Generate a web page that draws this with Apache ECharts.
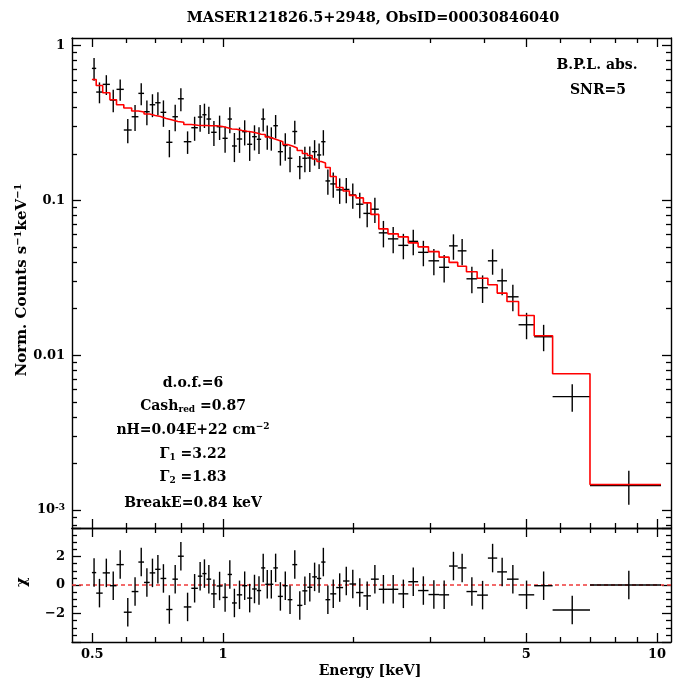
<!DOCTYPE html>
<html>
<head>
<meta charset="utf-8">
<script src="https://cdn.jsdelivr.net/npm/echarts@6/dist/echarts.min.js"></script>
<style>
  html, body { margin: 0; padding: 0; background: #fff; }
  #chart { width: 673px; height: 682px; }
</style>
</head>
<body>
<div id="chart"></div>
<script>
// Energy bin edges (keV); bin i spans binEdges[i] .. binEdges[i+1]
const binEdges = [
  0.499, 0.5105, 0.5284, 0.549, 0.5686, 0.591, 0.6162, 0.6385, 0.658, 0.678,
  0.6981, 0.7182, 0.7403, 0.7649, 0.7875, 0.8124, 0.8455, 0.8754, 0.8965, 0.9165,
  0.9393, 0.9671, 0.9976, 1.0253, 1.049, 1.0763, 1.1073, 1.137, 1.1676, 1.1967,
  1.2246, 1.2516, 1.2784, 1.3066, 1.3382, 1.3742, 1.4097, 1.445, 1.4827, 1.5238,
  1.5648, 1.6056, 1.6466, 1.6842, 1.7226, 1.7666, 1.8238, 1.8913, 1.9561, 2.0263,
  2.1064, 2.1921, 2.2856, 2.3995, 2.5349, 2.673, 2.8158, 2.9751, 3.1474, 3.3189,
  3.474, 3.6392, 3.8509, 4.0771, 4.2838, 4.5112, 4.798, 5.2129, 5.7475, 7.0079,
  10.214
];

// Normalised count rate per bin (counts s^-1 keV^-1) and its 1-sigma error
const flux = [
  0.7127, 0.5012, 0.5620, 0.4449, 0.5218, 0.2850, 0.3472, 0.4915, 0.3741, 0.4150,
  0.4275, 0.3707, 0.2374, 0.3472, 0.4535, 0.2395, 0.2949, 0.3456, 0.3576, 0.3355,
  0.2754, 0.2993, 0.2519, 0.3355, 0.2247, 0.2493, 0.2779, 0.2305, 0.2580, 0.2482,
  0.3355, 0.2588, 0.2531, 0.3038, 0.2064, 0.2263, 0.1872, 0.2787, 0.1653, 0.1872,
  0.1880, 0.2064, 0.1966, 0.2395, 0.1336, 0.1278, 0.1169, 0.1177, 0.1085, 0.09451,
  0.08243, 0.08774, 0.06172, 0.05644, 0.05124, 0.05439, 0.04619, 0.04072, 0.03697, 0.05086,
  0.04723, 0.03116, 0.02726, 0.04072, 0.03025, 0.02384, 0.01573, 0.01316, 0.005401, 0.001439
];
const fluxErr = [
  0.120, 0.0772, 0.0822, 0.0739, 0.0819, 0.0510, 0.0667, 0.0796, 0.0677, 0.0701,
  0.0722, 0.0719, 0.0475, 0.0674, 0.0766, 0.0398, 0.0522, 0.0681, 0.0640, 0.0671,
  0.0509, 0.0536, 0.0489, 0.0641, 0.0479, 0.0466, 0.0514, 0.0505, 0.0477, 0.0489,
  0.0567, 0.0463, 0.0435, 0.0523, 0.0386, 0.0457, 0.0350, 0.0479, 0.0284, 0.0350,
  0.0352, 0.0386, 0.0368, 0.0448, 0.0250, 0.0239, 0.0219, 0.0220, 0.0203, 0.0177,
  0.0154, 0.0164, 0.0120, 0.0109, 0.00958, 0.0102, 0.00864, 0.00790, 0.00747, 0.00951,
  0.00916, 0.00605, 0.00551, 0.00761, 0.00587, 0.00463, 0.00305, 0.00255, 0.00109, 0.000357
];

// Folded broken power-law model per bin
const model = [
  0.6035, 0.5520, 0.4959, 0.4469, 0.4150, 0.3952, 0.3780, 0.3724, 0.3614, 0.3535,
  0.3483, 0.3381, 0.3306, 0.3233, 0.3195, 0.3092, 0.3056, 0.3047, 0.3047, 0.3038,
  0.3038, 0.3002, 0.2949, 0.2892, 0.2879, 0.2829, 0.2796, 0.2767, 0.2726, 0.2678,
  0.2666, 0.2569, 0.2512, 0.2457, 0.2395, 0.2297, 0.2247, 0.2182, 0.2102, 0.2010,
  0.1951, 0.1852, 0.1785, 0.1746, 0.1633, 0.1428, 0.1213, 0.1151, 0.1077, 0.1038,
  0.09636, 0.08122, 0.06549, 0.06081, 0.05813, 0.05319, 0.05012, 0.04667, 0.04301, 0.03981,
  0.03752, 0.03457, 0.03139, 0.02850, 0.02519, 0.02224, 0.01804, 0.01335, 0.007597, 0.001461
];

// Residuals (data - model) / sigma
const residual = [
  0.87, -0.57, 0.85, -0.05, 1.43, -1.91, -0.46, 1.61, 0.18, 0.85,
  1.10, 0.46, -1.72, 0.41, 2.02, -1.54, -0.23, 0.62, 0.80, 0.41,
  -0.62, -0.07, -0.87, 0.74, -1.26, -0.69, -0.05, -0.92, -0.28, -0.39,
  1.20, 0.05, 0.05, 1.20, -0.80, -0.05, -1.03, 1.43, -1.43, -0.41,
  -0.16, 0.57, 0.46, 1.61, -1.03, -0.62, -0.18, 0.28, 0.07, -0.53,
  -0.76, 0.41, -0.30, -0.30, -0.62, 0.23, -0.39, -0.67, -0.69, 1.33,
  1.20, -0.46, -0.71, 1.89, 0.92, 0.41, -0.69, -0.05, -1.75, 0.00
];

// Axis ranges and ticks
const energyRange = [0.449, 10.77];
const fluxRange = [7.65e-4, 1.12];
const residualRange = [-4, 4];
const energyTicks = [0.5, 1, 5, 10];
const energyTickLabels = ['0.5', '1', '5', '10'];
const energyMinorTicks = [0.6, 0.7, 0.8, 0.9, 2, 3, 4, 6, 7, 8, 9];
const fluxTicks = [0.001, 0.01, 0.1, 1];
const fluxTickLabels = ['10{sup|-3}', '0.01', '0.1', '1'];
const residualTicks = [-4, -2, 0, 2, 4];
const residualLabelTicks = [-2, 0, 2];

const lg = Math.log10;
const SERIF = 'DejaVu Serif';
const INK = '#000';

// minor flux ticks: 2..9 x each decade inside the range
const fluxMinorTicks = [];
for (let d = -4; d <= 0; d++) {
  for (let m = 2; m <= 9; m++) {
    const v = m * Math.pow(10, d);
    if (v > fluxRange[0] && v < fluxRange[1]) fluxMinorTicks.push(v);
  }
}
const residualMinorTicks = [];
for (let v = -3.5; v <= 3.5; v += 0.5) {
  if (Math.abs(v % 2) > 1e-9) residualMinorTicks.push(v);
}

// Build series data in log space
const spectrum = [], resid = [], modelStep = [];
for (let i = 0; i < flux.length; i++) {
  const lo = binEdges[i], hi = binEdges[i + 1], e = (lo + hi) / 2;
  spectrum.push([lg(e), lg(flux[i]), lg(lo), lg(hi), lg(flux[i] - fluxErr[i]), lg(flux[i] + fluxErr[i])]);
  resid.push([lg(e), residual[i], lg(lo), lg(hi), residual[i] - 1, residual[i] + 1]);
  modelStep.push([lg(lo), lg(model[i])], [lg(hi), lg(model[i])]);
}

function renderCross(params, api) {
  const x = api.value(0), y = api.value(1);
  const a = api.coord([api.value(2), y]);
  const b = api.coord([api.value(3), y]);
  const c = api.coord([x, api.value(4)]);
  const d = api.coord([x, api.value(5)]);
  const st = { stroke: INK, lineWidth: 1.4 };
  return {
    type: 'group',
    children: [
      { type: 'line', shape: { x1: a[0], y1: a[1], x2: b[0], y2: b[1] }, style: st },
      { type: 'line', shape: { x1: c[0], y1: c[1], x2: d[0], y2: d[1] }, style: st }
    ]
  };
}

const labelFont = { fontFamily: SERIF, fontWeight: 'bold', fontSize: 13, color: INK };

function frameAxis(grid, pos, min, max, ticks, len, showLine, label) {
  return {
    type: 'value', gridIndex: grid, position: pos, min: min, max: max,
    silent: true,
    axisLine: { show: showLine, onZero: false, lineStyle: { color: INK, width: 1.4 } },
    axisTick: { show: true, inside: true, length: len, customValues: ticks,
                lineStyle: { color: INK, width: 1.3 } },
    axisLabel: label || { show: false },
    splitLine: { show: false },
    splitArea: { show: false }
  };
}

const xMin = lg(energyRange[0]), xMax = lg(energyRange[1]);
const yMin = lg(fluxRange[0]), yMax = lg(fluxRange[1]);
const eMaj = energyTicks.map(lg), eMin = energyMinorTicks.map(lg);
const fMaj = fluxTicks.map(lg), fMin = fluxMinorTicks.map(lg);

const energyLabel = Object.assign({
  show: true, margin: 6, customValues: eMaj,
  formatter: v => energyTickLabels[eMaj.findIndex(t => Math.abs(t - v) < 1e-6)]
}, labelFont);
const fluxLabel = Object.assign({
  show: true, margin: 7, customValues: fMaj,
  formatter: v => fluxTickLabels[fMaj.findIndex(t => Math.abs(t - v) < 1e-6)],
  rich: {
    sup: { fontFamily: SERIF, fontWeight: 'bold', fontSize: 9, lineHeight: 9, verticalAlign: 'top', color: INK }
  }
}, labelFont);
const residLabel = Object.assign({
  show: true, margin: 7, customValues: residualLabelTicks,
  formatter: v => (v < 0 ? '\u2212' + Math.abs(v) : String(v))
}, labelFont);

const xAxes = [
  frameAxis(0, 'bottom', xMin, xMax, eMaj, 9, true),
  frameAxis(0, 'bottom', xMin, xMax, eMin, 5, false),
  frameAxis(0, 'top', xMin, xMax, eMaj, 9, true),
  frameAxis(0, 'top', xMin, xMax, eMin, 5, false),
  frameAxis(1, 'bottom', xMin, xMax, eMaj, 9, true, energyLabel),
  frameAxis(1, 'bottom', xMin, xMax, eMin, 5, false),
  frameAxis(1, 'top', xMin, xMax, eMaj, 9, true),
  frameAxis(1, 'top', xMin, xMax, eMin, 5, false)
];
const yAxes = [
  frameAxis(0, 'left', yMin, yMax, fMaj, 9, true, fluxLabel),
  frameAxis(0, 'left', yMin, yMax, fMin, 5, false),
  frameAxis(0, 'right', yMin, yMax, fMaj, 9, true),
  frameAxis(0, 'right', yMin, yMax, fMin, 5, false),
  frameAxis(1, 'left', residualRange[0], residualRange[1], residualTicks, 9, true, residLabel),
  frameAxis(1, 'left', residualRange[0], residualRange[1], residualMinorTicks, 5, false),
  frameAxis(1, 'right', residualRange[0], residualRange[1], residualTicks, 9, true),
  frameAxis(1, 'right', residualRange[0], residualRange[1], residualMinorTicks, 5, false)
];

function text(x, y, str, size, extra) {
  return Object.assign({
    type: 'text', x: x, y: y, silent: true,
    style: {
      text: str, fill: INK, fontFamily: SERIF, fontWeight: 'bold', fontSize: size,
      lineHeight: size + 2,
      align: 'center', verticalAlign: 'middle', textAlign: 'center', textVerticalAlign: 'middle',
      rich: {
        sup: { fontFamily: SERIF, fontWeight: 'bold', fontSize: Math.round(size * 0.66), lineHeight: Math.round(size * 0.66), verticalAlign: 'top', fill: INK },
        sub: { fontFamily: SERIF, fontWeight: 'bold', fontSize: Math.round(size * 0.66), lineHeight: Math.round(size * 0.66), verticalAlign: 'bottom', fill: INK }
      }
    }
  }, extra || {});
}

const option = {
  animation: false,
  backgroundColor: '#fff',
  grid: [
    { left: 72, top: 38, width: 599, height: 490, containLabel: false, outerBoundsMode: 'none' },
    { left: 72, top: 528, width: 599, height: 114, containLabel: false, outerBoundsMode: 'none' }
  ],
  xAxis: xAxes,
  yAxis: yAxes,
  series: [
    {
      type: 'custom', name: 'spectrum', xAxisIndex: 0, yAxisIndex: 0,
      renderItem: renderCross, data: spectrum, encode: { x: [0, 2, 3], y: [1, 4, 5] }, z: 2, silent: true
    },
    {
      type: 'line', name: 'model', xAxisIndex: 0, yAxisIndex: 0, data: modelStep,
      symbol: 'none', showSymbol: false, lineStyle: { color: '#ff0000', width: 1.6 }, z: 3, silent: true
    },
    {
      type: 'line', name: 'zero', xAxisIndex: 4, yAxisIndex: 4, data: [[xMin, 0], [xMax, 0]],
      symbol: 'none', showSymbol: false, lineStyle: { color: '#ee3a3a', width: 1.4, type: [4, 3] }, z: 1, silent: true
    },
    {
      type: 'custom', name: 'residual', xAxisIndex: 4, yAxisIndex: 4,
      renderItem: renderCross, data: resid, encode: { x: [0, 2, 3], y: [1, 4, 5] }, z: 2, silent: true
    }
  ],
  graphic: [
    text(373, 18, 'MASER121826.5+2948, ObsID=00030846040', 14.5),
    text(597, 65, 'B.P.L. abs.', 14),
    text(598, 90, 'SNR=5', 14),
    text(193, 383, 'd.o.f.=6', 14),
    text(193, 406, 'Cash{sub|red} =0.87', 14),
    text(193, 430, 'nH=0.04E+22 cm{sup|\u22122}', 14),
    text(193, 454, '\u0393{sub|1} =3.22', 14),
    text(193, 477, '\u0393{sub|2} =1.83', 14),
    text(193, 503, 'BreakE=0.84 keV', 14),
    text(22, 280, 'Norm. Counts s{sup|\u22121}keV{sup|\u22121}', 15, { rotation: Math.PI / 2 }),
    text(22, 582, '\u03c7', 15, { rotation: Math.PI / 2 }),
    text(370, 671, 'Energy [keV]', 14)
  ]
};

const chart = echarts.init(document.getElementById('chart'), null, { renderer: 'canvas' });
chart.setOption(option);
</script>
</body>
</html>
